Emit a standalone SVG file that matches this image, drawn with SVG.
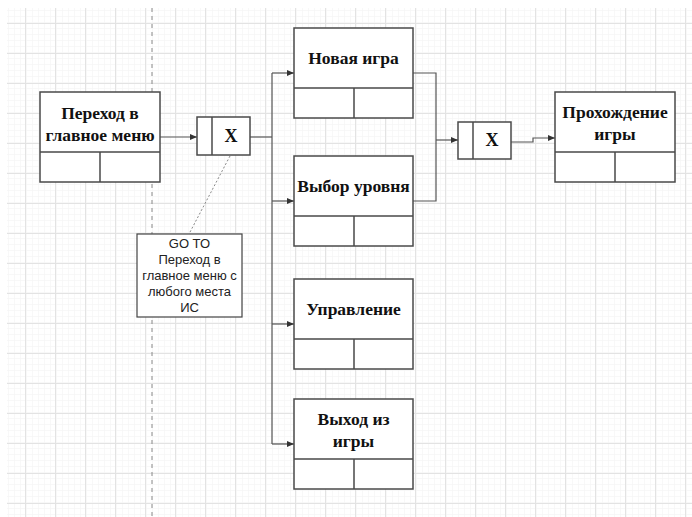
<svg xmlns="http://www.w3.org/2000/svg" width="692" height="517" viewBox="0 0 692 517">
<defs>
<pattern id="minor" patternUnits="userSpaceOnUse" x="25" y="23" width="6" height="6">
<path d="M0 0H6M0 0V6" fill="none" stroke="#f2f2f2" stroke-width="1"/>
</pattern>
<pattern id="major" patternUnits="userSpaceOnUse" x="25" y="23" width="30" height="30">
<rect width="30" height="30" fill="url(#minor)"/>
<path d="M0 0.5H30M0.5 0V30" fill="none" stroke="#e3e3e3" stroke-width="1"/>
</pattern>
<marker id="arr" markerWidth="8" markerHeight="8" refX="7" refY="4" orient="auto" markerUnits="userSpaceOnUse">
<path d="M0 1L7 4L0 7Z" fill="#333"/>
</marker>
</defs>
<style>
.box{fill:#fff;stroke:#4a4a4a;stroke-width:1.5}
.div{fill:none;stroke:#4a4a4a;stroke-width:1.5}
.t{font-family:"Liberation Serif","Times New Roman",serif;font-weight:bold;font-size:17.5px;fill:#111;text-anchor:middle}
.x{font-family:"Liberation Serif","Times New Roman",serif;font-weight:bold;font-size:18px;fill:#111;text-anchor:middle}
.n{font-family:"Liberation Sans",Arial,sans-serif;font-size:13px;fill:#222;text-anchor:middle}
.c{fill:none;stroke:#555;stroke-width:1.2}
</style>
<rect width="692" height="517" fill="#fff"/>
<rect x="7" y="8" width="685" height="509" fill="url(#major)"/>
<line x1="152" y1="8" x2="152" y2="517" stroke="#888" stroke-width="1" stroke-dasharray="4,4"/>

<g id="connectors">
<path class="c" d="M160 137H197" marker-end="url(#arr)"/>
<path class="c" d="M250 137H272" stroke="#333"/>
<path class="c" d="M272 73V444"/>
<path class="c" d="M272 73H294" marker-end="url(#arr)"/>
<path class="c" d="M272 201H294" marker-end="url(#arr)"/>
<path class="c" d="M272 324H294" marker-end="url(#arr)"/>
<path class="c" d="M272 444H294" marker-end="url(#arr)"/>
<path class="c" d="M413 73H436V201H413"/>
<path class="c" d="M436 140H458" marker-end="url(#arr)"/>
<path class="c" d="M511 142H533V138H555" marker-end="url(#arr)"/>
<path d="M230 156L189 234" fill="none" stroke="#888" stroke-width="1" stroke-dasharray="2,2"/>
</g>

<g id="node-main-menu">
<rect class="box" x="40" y="92" width="120" height="90"/>
<path class="div" d="M40 152H160M100 152V182"/>
<text class="t" x="100" y="119">Переход в</text>
<text class="t" x="100" y="141">главное меню</text>
</g>

<g id="junction-1">
<rect class="box" x="197" y="117" width="53" height="38"/>
<path class="div" d="M212 117V155"/>
<text class="x" x="231" y="142">X</text>
</g>

<g id="note">
<rect x="137" y="234" width="105" height="83" fill="#fff" stroke="#444" stroke-width="1.2"/>
<text class="n" x="189.5" y="248">GO TO</text>
<text class="n" x="189.5" y="264">Переход в</text>
<text class="n" x="189.5" y="280">главное меню с</text>
<text class="n" x="189.5" y="296">любого места</text>
<text class="n" x="189.5" y="312">ИС</text>
</g>

<g id="node-new-game">
<rect class="box" x="294" y="28" width="119" height="90"/>
<path class="div" d="M294 88H413M354 88V118"/>
<text class="t" x="353.5" y="64">Новая игра</text>
</g>

<g id="node-level">
<rect class="box" x="294" y="156" width="119" height="90"/>
<path class="div" d="M294 216H413M354 216V246"/>
<text class="t" x="353.5" y="192">Выбор уровня</text>
</g>

<g id="node-controls">
<rect class="box" x="294" y="279" width="119" height="90"/>
<path class="div" d="M294 339H413M354 339V369"/>
<text class="t" x="353.5" y="315">Управление</text>
</g>

<g id="node-exit">
<rect class="box" x="294" y="399" width="119" height="90"/>
<path class="div" d="M294 459H413M354 459V489"/>
<text class="t" x="353.5" y="425">Выход из</text>
<text class="t" x="353.5" y="447">игры</text>
</g>

<g id="junction-2">
<rect class="box" x="458" y="122" width="53" height="37"/>
<path class="div" d="M473 122V159"/>
<text class="x" x="492" y="146">X</text>
</g>

<g id="node-play">
<rect class="box" x="555" y="92" width="120" height="90"/>
<path class="div" d="M555 152H675M615 152V182"/>
<text class="t" x="615" y="118">Прохождение</text>
<text class="t" x="615" y="140">игры</text>
</g>
</svg>
